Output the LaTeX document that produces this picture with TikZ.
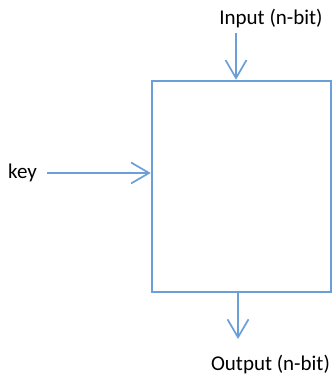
\documentclass[tikz,border=0pt]{standalone}
\usepackage{fontspec}
\setmainfont{Carlito}
\usetikzlibrary{arrows.meta}
\definecolor{lineblue}{RGB}{106,159,216}
\tikzset{
  blockbox/.style={draw=lineblue, line width=2.5pt, minimum width=179pt, minimum height=211pt, inner sep=0pt},
  flow/.style={draw=lineblue, line width=1.7pt, -{Straight Barb[length=18pt,width=21pt,line width=1.7pt]}},
  lbl/.style={font=\fontsize{21}{25}\selectfont, inner sep=0pt, anchor=base}
}
\begin{document}
\begin{tikzpicture}[x=1pt,y=1pt]
\useasboundingbox (0,0) rectangle (333,375);
\node[blockbox] (box) at (241.5,188.5) {};
\node[lbl] (inlbl) at (271,350) {Input (n-bit)};
\node[lbl, anchor=base west] (keylbl) at (8,196) {key};
\node[lbl] (outlbl) at (270.5,5) {Output (n-bit)};
\coordinate (instart) at (236,342);
\coordinate (keystart) at (47,202);
\coordinate (outend) at (238,36);
\draw[flow] (instart) -- (instart |- box.north);
\draw[flow] (keystart) -- (keystart -| box.west);
\draw[flow] (outend |- box.south) -- (outend);
\end{tikzpicture}
\end{document}
